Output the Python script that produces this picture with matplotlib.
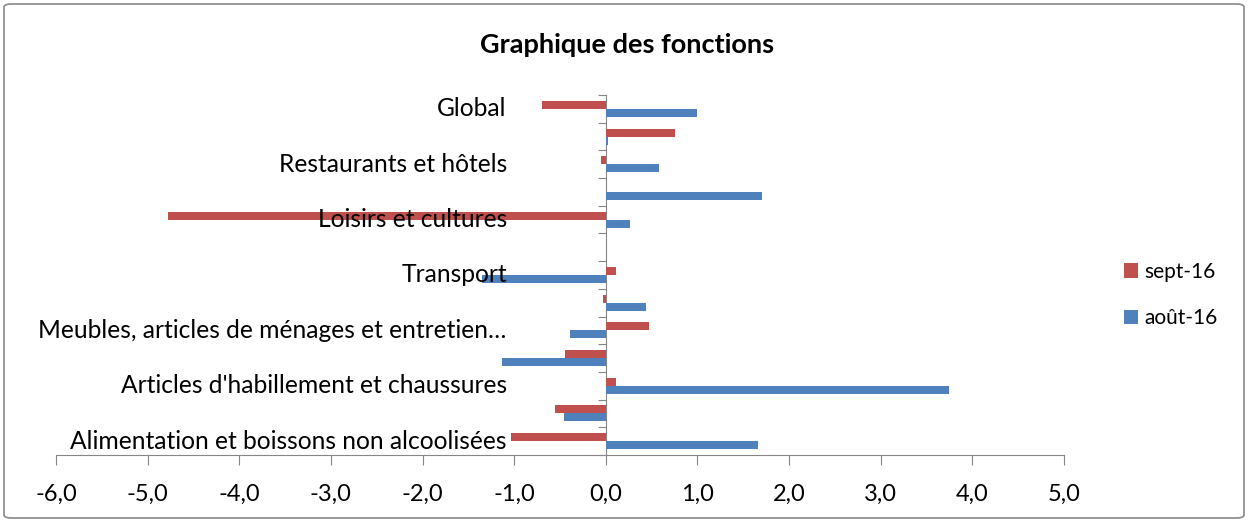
import numpy as np
import matplotlib.pyplot as plt
from matplotlib.patches import FancyBboxPatch

# --- Data (bottom to top) ---
categories = ["Alimentation et boissons non alcoolisées",
              "Boissons alcoolisées et tabac",
              "Articles d'habillement et chaussures",
              "Logement, eau, gaz, électricité",
              "Meubles, articles de ménages et entretien…",
              "Santé",
              "Transport",
              "Communication",
              "Loisirs et cultures",
              "Enseignement",
              "Restaurants et hôtels",
              "Biens et services divers",
              "Global"]
aout_16 = [1.66, -0.46, 3.75, -1.13, -0.39, 0.44, -1.35, 0.0, 0.26, 1.70, 0.58, 0.02, 1.00]
sept_16 = [-1.04, -0.56, 0.11, -0.45, 0.47, -0.03, 0.11, 0.0, -4.78, 0.0, -0.05, 0.75, -0.70]
x_ticks = np.arange(-6, 6, 1)

plt.rcParams['font.family'] = ['Lato', 'DejaVu Sans']

fig = plt.figure(figsize=(12.48, 5.22), dpi=100)
ax = fig.add_axes([56 / 1248, 67 / 522, (1064 - 56) / 1248, (455 - 95) / 522])

y = np.arange(len(categories))
h = 0.29
ax.barh(y - h / 2, aout_16, height=h, color='#4F81BD', label='août-16')
ax.barh(y + h / 2, sept_16, height=h, color='#C0504D', label='sept-16')

ax.set_xlim(-6, 5)
ax.set_ylim(-0.5, len(categories) - 0.5)

axis_col = '#868686'
for s in ['top', 'right']:
    ax.spines[s].set_visible(False)
ax.spines['left'].set_position(('data', 0))
ax.spines['left'].set_color(axis_col)
ax.spines['bottom'].set_color(axis_col)
ax.spines['left'].set_zorder(0)

ax.set_yticks(np.arange(-0.5, len(categories), 1))
ax.set_yticklabels([])
ax.tick_params(axis='y', direction='out', length=6, color=axis_col)

ax.set_xticks(x_ticks)
ax.set_xticklabels([f"{v:.1f}".replace('.', ',') for v in x_ticks], fontsize=17)
ax.tick_params(axis='x', direction='out', length=7, color=axis_col, pad=14)

# every other category label, as in the original
for i, name in enumerate(categories):
    if i % 2 == 0:
        ax.text(-1.08, i, name, ha='right', va='center', fontsize=17.7)

fig.text(627 / 1248, 1 - 45 / 522, "Graphique des fonctions", ha='center', va='center',
         fontsize=19.5, fontweight='bold')

handles, labels = ax.get_legend_handles_labels()
fig.legend(handles[::-1], labels[::-1], loc='center left',
           bbox_to_anchor=(1105 / 1248, 1 - 295 / 522), frameon=False,
           fontsize=15, handlelength=0.7, handleheight=0.7, handletextpad=0.3,
           labelspacing=1.27)

fig.patches.append(FancyBboxPatch((4 / 1248, 4 / 522), 1240 / 1248, 514 / 522,
                                  boxstyle='round,pad=0,rounding_size=0.006',
                                  transform=fig.transFigure, fill=False,
                                  edgecolor='#888888', linewidth=1.2))

fig.savefig('out.png', dpi=100)
